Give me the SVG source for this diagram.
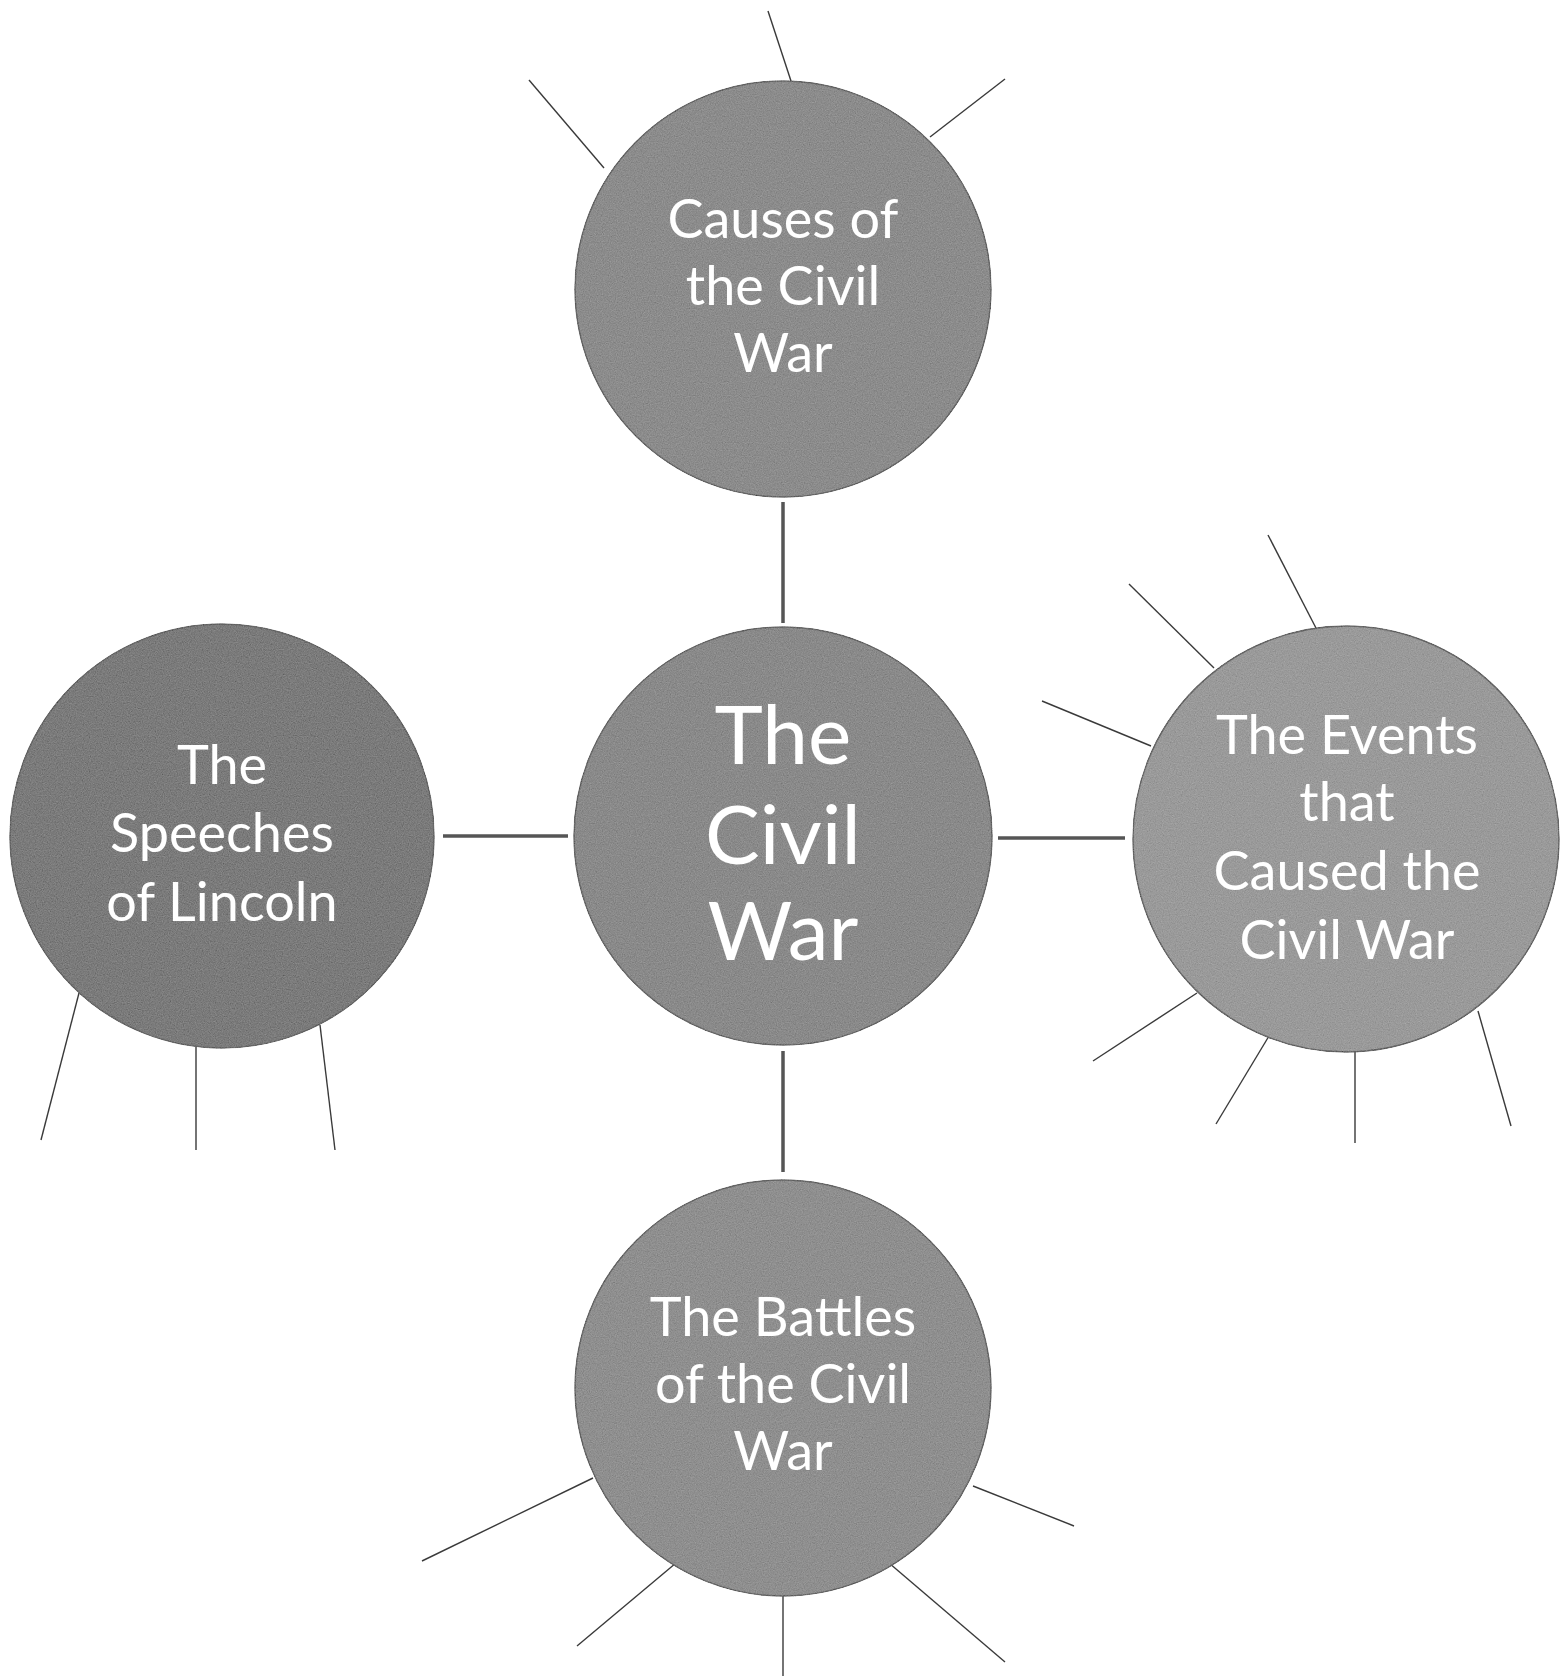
<svg xmlns="http://www.w3.org/2000/svg" width="1567" height="1676" viewBox="0 0 1567 1676">
<style>
.bg{fill:#ffffff}
.node{stroke:#666666;stroke-width:1.5;filter:url(#grain)}
.lbl{fill:#ffffff;font-family:Lato,"Open Sans","Noto Sans",sans-serif;text-anchor:middle}
.t52{font-size:54px}
.t78{font-size:82px}
.conn{stroke:#555555;stroke-width:3.5;fill:none}
.spoke{stroke:#3a3a3a;stroke-width:1.4;fill:none}
</style>
<defs>
<filter id="grain" x="-5%" y="-5%" width="110%" height="110%">
  <feTurbulence type="fractalNoise" baseFrequency="0.85" numOctaves="2" seed="4" result="n"/>
  <feColorMatrix in="n" type="matrix" values="0.33 0.33 0.33 0 0  0.33 0.33 0.33 0 0  0.33 0.33 0.33 0 0  0 0 0 0 1" result="g"/>
  <feComposite in="SourceGraphic" in2="g" operator="arithmetic" k1="0" k2="1" k3="0.3" k4="-0.15" result="m"/>
  <feComposite in="m" in2="SourceAlpha" operator="in"/>
</filter>
</defs>
<rect class="bg" x="0" y="0" width="1567" height="1676"/>
<g id="connectors">
  <line class="conn" x1="783" y1="502" x2="783" y2="623"/>
  <line class="conn" x1="443" y1="836" x2="568" y2="836"/>
  <line class="conn" x1="998" y1="838" x2="1125" y2="838"/>
  <line class="conn" x1="783" y1="1051" x2="783" y2="1172"/>
  <line class="spoke" x1="604" y1="168" x2="529" y2="80"/>
  <line class="spoke" x1="791" y1="81" x2="768" y2="11"/>
  <line class="spoke" x1="930" y1="137" x2="1005" y2="79"/>
  <line class="spoke" x1="79" y1="993" x2="41" y2="1140"/>
  <line class="spoke" x1="196" y1="1043" x2="196" y2="1150"/>
  <line class="spoke" x1="320" y1="1025" x2="335" y2="1150"/>
  <line class="spoke" x1="1317" y1="630" x2="1268" y2="535"/>
  <line class="spoke" x1="1214" y1="668" x2="1129" y2="584"/>
  <line class="spoke" x1="1151" y1="746" x2="1042" y2="701"/>
  <line class="spoke" x1="1197" y1="993" x2="1093" y2="1061"/>
  <line class="spoke" x1="1269" y1="1036" x2="1216" y2="1124"/>
  <line class="spoke" x1="1355" y1="1050" x2="1355" y2="1143"/>
  <line class="spoke" x1="1478" y1="1011" x2="1511" y2="1126"/>
  <line class="spoke" x1="593" y1="1478" x2="422" y2="1561"/>
  <line class="spoke" x1="676" y1="1563" x2="577" y2="1646"/>
  <line class="spoke" x1="783" y1="1595" x2="783" y2="1676"/>
  <line class="spoke" x1="889" y1="1563" x2="1005" y2="1662"/>
  <line class="spoke" x1="973" y1="1486" x2="1074" y2="1526"/>
</g>
<g id="node-causes">
  <circle class="node" cx="783" cy="289" r="208" fill="#8c8c8c"/>
  <text class="lbl t52" x="783" y="238">Causes of</text>
  <text class="lbl t52" x="783" y="305">the Civil</text>
  <text class="lbl t52" x="783" y="372">War</text>
</g>
<g id="node-center">
  <circle class="node" cx="783" cy="836" r="209" fill="#8a8a8a"/>
  <text class="lbl t78" x="783" y="764">The</text>
  <text class="lbl t78" x="783" y="864">Civil</text>
  <text class="lbl t78" x="783" y="960">War</text>
</g>
<g id="node-speeches">
  <circle class="node" cx="222" cy="836" r="212" fill="#7b7b7b"/>
  <text class="lbl t52" x="222" y="784">The</text>
  <text class="lbl t52" x="222" y="852">Speeches</text>
  <text class="lbl t52" x="222" y="921">of Lincoln</text>
</g>
<g id="node-events">
  <circle class="node" cx="1346" cy="839" r="213" fill="#9a9a9a"/>
  <text class="lbl t52" x="1347" y="754">The Events</text>
  <text class="lbl t52" x="1347" y="821">that</text>
  <text class="lbl t52" x="1347" y="890">Caused the</text>
  <text class="lbl t52" x="1347" y="959">Civil War</text>
</g>
<g id="node-battles">
  <circle class="node" cx="783" cy="1388" r="208" fill="#8f8f8f"/>
  <text class="lbl t52" x="783" y="1336">The Battles</text>
  <text class="lbl t52" x="783" y="1403">of the Civil</text>
  <text class="lbl t52" x="783" y="1470">War</text>
</g>
</svg>
